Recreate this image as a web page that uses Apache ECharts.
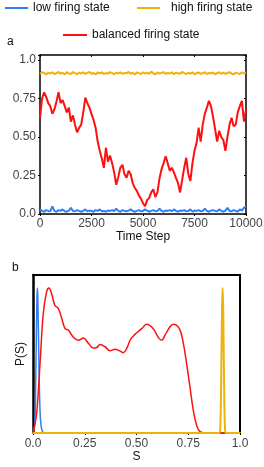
<!DOCTYPE html>
<html><head><meta charset="utf-8">
<script src="https://cdn.jsdelivr.net/npm/echarts@6/dist/echarts.min.js"></script>
<style>html,body{margin:0;padding:0;background:#fff}#c{width:264px;height:467px}</style>
</head><body><div id="c"></div>
<script>
// ---- Panel a: time series (sampled every 100 time steps) ----
const timeStep = 100;
const lowSeries = [0.03,0.02,0.015,0.025,0.02,0.018,0.05,0.02,0.015,0.025,
0.02,0.03,0.018,0.015,0.022,0.04,0.02,0.018,0.025,0.02,
0.015,0.02,0.03,0.018,0.022,0.02,0.015,0.025,0.02,0.03,
0.018,0.02,0.015,0.022,0.02,0.025,0.018,0.035,0.02,0.015,
0.025,0.02,0.018,0.022,0.03,0.02,0.015,0.02,0.025,0.018,
0.02,0.03,0.022,0.015,0.02,0.025,0.018,0.02,0.035,0.02,
0.015,0.022,0.02,0.025,0.018,0.03,0.02,0.015,0.022,0.02,
0.025,0.018,0.02,0.03,0.015,0.022,0.02,0.025,0.018,0.02,
0.035,0.02,0.015,0.022,0.025,0.02,0.018,0.03,0.02,0.015,
0.022,0.04,0.02,0.018,0.025,0.02,0.015,0.03,0.022,0.04,0.05];
const highSeries = [0.91,0.92,0.915,0.905,0.918,0.912,0.92,0.908,0.915,0.922,
0.91,0.917,0.906,0.92,0.913,0.909,0.921,0.914,0.907,0.918,
0.912,0.92,0.909,0.916,0.922,0.91,0.915,0.906,0.919,0.913,
0.92,0.908,0.915,0.911,0.921,0.914,0.907,0.918,0.912,0.92,
0.909,0.916,0.913,0.922,0.91,0.917,0.906,0.919,0.914,0.908,
0.92,0.912,0.918,0.91,0.924,0.913,0.907,0.919,0.911,0.916,
0.921,0.909,0.915,0.912,0.92,0.907,0.918,0.913,0.91,0.922,
0.914,0.908,0.917,0.911,0.92,0.906,0.915,0.919,0.91,0.913,
0.921,0.908,0.916,0.912,0.919,0.907,0.914,0.92,0.91,0.917,
0.909,0.915,0.921,0.911,0.906,0.918,0.913,0.909,0.92,0.912,0.918];
const balancedSeries = [0.62,0.75,0.79,0.76,0.72,0.70,0.65,0.68,0.73,0.79,
0.72,0.74,0.70,0.66,0.69,0.60,0.64,0.58,0.53,0.56,
0.58,0.66,0.755,0.72,0.69,0.65,0.61,0.56,0.47,0.41,
0.36,0.30,0.43,0.34,0.38,0.33,0.27,0.19,0.24,0.30,
0.32,0.26,0.235,0.28,0.26,0.20,0.17,0.15,0.12,0.10,
0.07,0.05,0.09,0.105,0.14,0.16,0.11,0.14,0.23,0.29,
0.33,0.375,0.33,0.28,0.30,0.27,0.235,0.20,0.14,0.22,
0.30,0.365,0.26,0.215,0.33,0.41,0.46,0.56,0.47,0.58,
0.65,0.69,0.735,0.70,0.63,0.55,0.47,0.54,0.50,0.48,
0.41,0.50,0.58,0.625,0.57,0.58,0.66,0.70,0.735,0.60,0.68];
const xTicksA = [0, 2500, 5000, 7500, 10000];
const xTickLabelsA = ['0', '2500', '5000', '7500', '10000'];
const yTicksA = [0, 0.25, 0.5, 0.75, 1];
const yTickLabelsA = ['0.0', '0.25', '0.50', '0.75', '1.0'];

// ---- Panel b: distributions P(S) ----
const lowS = [0, 0.008, 0.012, 0.016, 0.019, 0.021, 0.023, 0.026, 0.030, 0.034, 0.040, 0.048, 0.06, 1.0];
const lowP = [0, 0.05, 0.25, 0.65, 0.93, 1.0, 0.95, 0.72, 0.38, 0.15, 0.04, 0.005, 0, 0];
const balS = [0, 0.005, 0.018, 0.034, 0.05, 0.066, 0.077, 0.09, 0.106, 0.122, 0.139, 0.155, 0.171, 0.195, 0.219, 0.243, 0.267, 0.291, 0.308, 0.324, 0.348, 0.372, 0.396, 0.42, 0.436, 0.453, 0.469, 0.485, 0.50, 0.525, 0.549, 0.581, 0.605, 0.622, 0.638, 0.662, 0.678, 0.707, 0.726, 0.742, 0.758, 0.774, 0.79, 0.807, 0.84, 1.0];
const balP = [0, 0.03, 0.14, 0.48, 0.83, 0.975, 1.0, 0.96, 0.88, 0.86, 0.79, 0.72, 0.71, 0.66, 0.64, 0.655, 0.62, 0.586, 0.59, 0.61, 0.595, 0.567, 0.577, 0.566, 0.554, 0.584, 0.64, 0.67, 0.69, 0.72, 0.75, 0.72, 0.66, 0.64, 0.676, 0.733, 0.75, 0.72, 0.62, 0.48, 0.32, 0.16, 0.055, 0.01, 0, 0];
const highS = [0, 0.9, 0.905, 0.909, 0.913, 0.916, 0.919, 0.923, 0.927, 0.932, 1.0];
const highP = [0, 0, 0.05, 0.35, 0.85, 1.0, 0.85, 0.35, 0.05, 0, 0];
const xTicksB = [0, 0.25, 0.5, 0.75, 1];
const xTickLabelsB = ['0.0', '0.25', '0.50', '0.75', '1.0'];

const names = ['low firing state', 'high firing state', 'balanced firing state'];
const colors = {low: '#2f80f5', high: '#efb20a', bal: '#ff1010'};

function pairs(xs, ys) { return xs.map((x, i) => [x, ys[i]]); }
function timePairs(vals) { return vals.map((v, i) => [i * timeStep, v]); }
function lab(ticks, labels) {
  return v => { const k = ticks.findIndex(t => Math.abs(t - v) < 1e-9); return k >= 0 ? labels[k] : ''; };
}

const font = 'Liberation Sans, Arial, sans-serif';
function frame(w) { return {show: true, onZero: false, lineStyle: {color: '#000', width: w}}; }
const labelStyle = {color: '#444', fontSize: 12, fontFamily: font};
const nameStyle = {color: '#111', fontSize: 12, fontFamily: font};
const legendText = {color: '#111', fontSize: 12, fontFamily: font};

const chart = echarts.init(document.getElementById('c'), null, {renderer: 'canvas'});
chart.setOption({
  animation: false,
  backgroundColor: '#fff',
  textStyle: {fontFamily: font},
  legend: [
    {data: [names[0]], left: 5, top: 2, padding: 0, icon: 'rect', itemWidth: 23, itemHeight: 2, textStyle: legendText},
    {data: [names[1]], left: 137, top: 2, padding: 0, icon: 'rect', itemWidth: 23, itemHeight: 2, textStyle: {...legendText, padding: [0, 0, 0, 6]}},
    {data: [names[2]], left: 63, top: 29, padding: 0, icon: 'rect', itemWidth: 24, itemHeight: 2, textStyle: legendText}
  ],
  graphic: [
    {type: 'text', left: 7, top: 36, style: {text: 'a', fontSize: 12, fontFamily: font, fill: '#111'}},
    {type: 'text', left: 12, top: 262, style: {text: 'b', fontSize: 12, fontFamily: font, fill: '#111'}}
  ],
  grid: [
    {left: 40, top: 55, width: 206, height: 159, containLabel: false, outerBoundsMode: 'none'},
    {left: 33, top: 275, width: 207, height: 158, containLabel: false, outerBoundsMode: 'none'}
  ],
  xAxis: [
    {gridIndex: 0, type: 'value', min: 0, max: 10000, interval: 2500, position: 'bottom',
     axisLine: frame(1.5), axisTick: {show: true, length: 2, lineStyle: {color: '#000'}}, splitLine: {show: false},
     axisLabel: {...labelStyle, margin: 4, formatter: lab(xTicksA, xTickLabelsA)}, name: 'Time Step', nameLocation: 'middle', nameGap: 16, nameTextStyle: nameStyle},
    {gridIndex: 0, type: 'value', min: 0, max: 10000, interval: 2500, position: 'top',
     axisLine: frame(1.5), axisTick: {show: true, inside: true, length: 2, lineStyle: {color: '#000'}}, splitLine: {show: false}, axisLabel: {show: false}},
    {gridIndex: 1, type: 'value', min: 0, max: 1, interval: 0.25, position: 'bottom',
     axisLine: {show: true, onZero: false, lineStyle: {color: colors.high, width: 2}}, axisTick: {show: true, length: 2, lineStyle: {color: '#000'}}, splitLine: {show: false},
     axisLabel: {...labelStyle, margin: 5, formatter: lab(xTicksB, xTickLabelsB)}, name: 'S', nameLocation: 'middle', nameGap: 17, nameTextStyle: nameStyle},
    {gridIndex: 1, type: 'value', min: 0, max: 1, position: 'top',
     axisLine: frame(2), axisTick: {show: false}, splitLine: {show: false}, axisLabel: {show: false}}
  ],
  yAxis: [
    {gridIndex: 0, type: 'value', min: 0, max: 1.032, interval: 0.25, position: 'left',
     axisLine: frame(1.5), axisTick: {show: true, length: 2, lineStyle: {color: '#000'}}, splitLine: {show: false},
     axisLabel: {...labelStyle, margin: 4, formatter: lab(yTicksA, yTickLabelsA)}, name: 'S', nameLocation: 'middle', nameGap: 31, nameTextStyle: nameStyle},
    {gridIndex: 0, type: 'value', min: 0, max: 1.032, interval: 0.25, position: 'right',
     axisLine: frame(1.5), axisTick: {show: true, inside: true, length: 2, lineStyle: {color: '#000'}}, splitLine: {show: false}, axisLabel: {show: false}},
    {gridIndex: 1, type: 'value', min: 0, max: 1.09, position: 'left',
     axisLine: frame(2.5), axisTick: {show: false}, splitLine: {show: false}, axisLabel: {show: false},
     name: 'P(S)', nameLocation: 'middle', nameGap: 6, nameTextStyle: nameStyle},
    {gridIndex: 1, type: 'value', min: 0, max: 1.09, position: 'right',
     axisLine: frame(2), axisTick: {show: false}, splitLine: {show: false}, axisLabel: {show: false}}
  ],
  series: [
    {name: names[0], type: 'line', xAxisIndex: 0, yAxisIndex: 0, data: timePairs(lowSeries), symbol: 'none', color: colors.low, lineStyle: {width: 2}},
    {name: names[1], type: 'line', xAxisIndex: 0, yAxisIndex: 0, data: timePairs(highSeries), symbol: 'none', color: colors.high, lineStyle: {width: 2}},
    {name: names[2], type: 'line', xAxisIndex: 0, yAxisIndex: 0, data: timePairs(balancedSeries), symbol: 'none', color: colors.bal, lineStyle: {width: 2}},
    {name: names[0], type: 'line', xAxisIndex: 2, yAxisIndex: 2, data: pairs(lowS, lowP), symbol: 'none', smooth: 0.3, clip: false, color: colors.low, lineStyle: {width: 1.5}},
    {name: names[2], type: 'line', xAxisIndex: 2, yAxisIndex: 2, data: pairs(balS, balP), symbol: 'none', smooth: 0.4, clip: false, color: colors.bal, lineStyle: {width: 1.5}},
    {name: names[1], type: 'line', xAxisIndex: 2, yAxisIndex: 2, data: pairs(highS, highP), symbol: 'none', smooth: 0.3, clip: false, color: colors.high, lineStyle: {width: 2}, z: 10}
  ]
});
</script></body></html>
